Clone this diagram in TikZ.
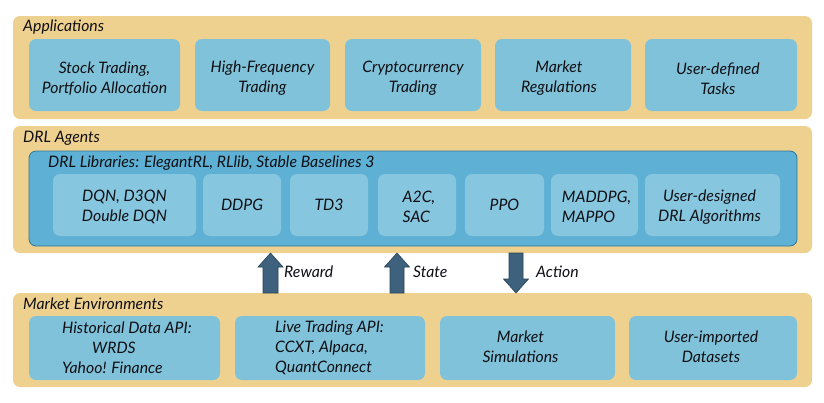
\documentclass[tikz,border=0pt]{standalone}
\usepackage{fontspec}
\setmainfont{Lato}
\usetikzlibrary{positioning}
\definecolor{panelc}{RGB}{239,209,143}
\definecolor{boxc}{RGB}{128,194,217}
\definecolor{libc}{RGB}{94,177,212}
\definecolor{libborder}{RGB}{46,118,150}
\definecolor{algc}{RGB}{134,198,222}
\definecolor{arrowc}{RGB}{62,98,125}
\definecolor{arrowb}{RGB}{38,66,86}
\definecolor{textc}{RGB}{15,15,20}
\tikzset{
  panel/.style={fill=panelc, rounded corners=7pt},
  libbox/.style={fill=libc, draw=libborder, line width=0.8pt, rounded corners=7pt},
  txt/.style={font=\fontsize{15.8}{20}\selectfont\itshape, text=textc, inner sep=0pt},
  boxtxt/.style={txt, align=center},
  blockarrow/.style={fill=arrowc, draw=arrowb, line width=0.6pt, line join=miter},
}
\newcommand{\rbox}[6]{% name, x1, y1, x2, y2, colour
  \path[fill=#6, rounded corners=7pt] (#2,#3) rectangle (#4,#5);
  \coordinate (#1) at ({(#2+#4)/2},{(#3+#5)/2});
}
\begin{document}
\begin{tikzpicture}[x=1pt,y=-1pt]
\useasboundingbox (0,0) rectangle (824,402);
% panels
\path[panel] (13,16) rectangle (812,119);
\path[panel] (13,126) rectangle (812,253);
\path[panel] (13,293) rectangle (812,387);
\node[txt, anchor=west] (lapp) at (23,27) {Applications};
\node[txt, anchor=west] (ldrl) at (23,138) {DRL Agents};
\node[txt, anchor=west] (lenv) at (23,304) {Market Environments};
% applications
\rbox{a1}{29}{39}{180}{111}{boxc}
\rbox{a2}{195}{39}{330}{111}{boxc}
\rbox{a3}{345}{39}{481}{111}{boxc}
\rbox{a4}{495}{39}{631}{111}{boxc}
\rbox{a5}{645}{39}{797}{111}{boxc}
\node[boxtxt] (ta1) at ([yshift=-3.5]a1) {Stock Trading,\\Portfolio Allocation};
\node[boxtxt] (ta2) at ([yshift=-3.5]a2) {High-Frequency\\Trading};
\node[boxtxt] (ta3) at ([yshift=-3.5]a3) {Cryptocurrency\\Trading};
\node[boxtxt] (ta4) at ([xshift=-4,yshift=-3.5]a4) {Market\\Regulations};
\node[boxtxt] (ta5) at ([xshift=-3,yshift=-3.5]a5) {User-defined\\Tasks};
% DRL libraries
\path[libbox] (29,151) rectangle (797,246);
\node[txt, anchor=west] (llib) at (48,163) {DRL Libraries: ElegantRL, RLlib, Stable Baselines 3};
\rbox{d1}{53}{174}{196}{236}{algc}
\rbox{d2}{203}{174}{281}{236}{algc}
\rbox{d3}{290}{174}{368}{236}{algc}
\rbox{d4}{378}{174}{456}{236}{algc}
\rbox{d5}{465}{174}{544}{236}{algc}
\rbox{d6}{551}{174}{638}{236}{algc}
\rbox{d7}{645}{174}{780}{236}{algc}
\node[boxtxt] (td1) at ([yshift=-2]d1) {DQN, D3QN\\Double DQN};
\node[boxtxt] (td2) at (d2) {DDPG};
\node[boxtxt] (td3) at (d3) {TD3};
\node[txt, align=left] (td4) at ([xshift=2,yshift=-2]d4) {A2C,\\SAC};
\node[boxtxt] (td5) at (d5) {PPO};
\node[txt, align=left] (td6) at ([xshift=2,yshift=-2]d6) {MADDPG,\\MAPPO};
\node[boxtxt] (td7) at ([xshift=-3,yshift=-2]d7) {User-designed\\DRL Algorithms};
% market environments
\rbox{e1}{29}{316}{220}{380}{boxc}
\rbox{e2}{235}{316}{425}{380}{boxc}
\rbox{e3}{440}{316}{615}{380}{boxc}
\rbox{e4}{629}{316}{797}{380}{boxc}
\node[txt, align=left, anchor=west] (te1) at (62,348) {Historical Data API:\\\hspace*{30pt}WRDS\\Yahoo! Finance};
\node[txt, align=left, anchor=west] (te2) at (275,348) {Live Trading API:\\CCXT, Alpaca,\\QuantConnect};
\node[boxtxt] (te3) at ([xshift=-7,yshift=1.5]e3) {Market\\Simulations};
\node[boxtxt] (te4) at ([xshift=-2,yshift=1.5]e4) {User-imported\\Datasets};
% arrows
\path[blockarrow] (263,293) -- (263,267) -- (258,267) -- (270.5,253) -- (283,267) -- (278,267) -- (278,293) -- cycle;
\path[blockarrow] (390,293) -- (390,267) -- (384.5,267) -- (397,253) -- (409.5,267) -- (404,267) -- (404,293) -- cycle;
\path[blockarrow] (509,253) -- (509,279) -- (503.5,279) -- (516,293) -- (528.5,279) -- (523,279) -- (523,253) -- cycle;
\node[txt, anchor=west] (lrew) at (284,272) {Reward};
\node[txt, anchor=west] (lsta) at (413,272) {State};
\node[txt, anchor=west] (lact) at (536,272) {Action};
\end{tikzpicture}
\end{document}
